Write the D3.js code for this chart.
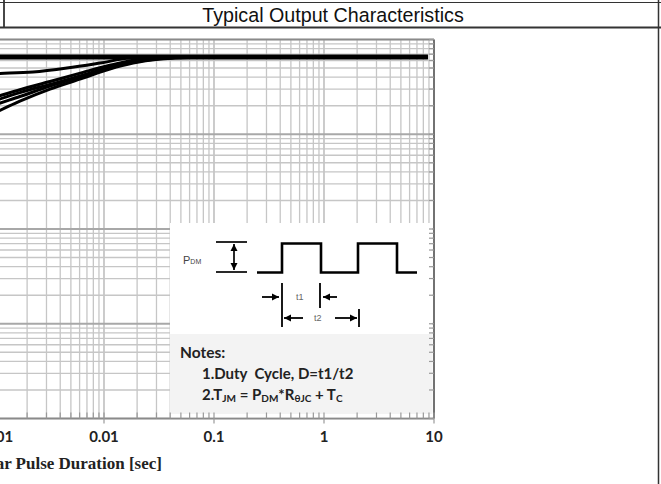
<!DOCTYPE html>
<html>
<head>
<meta charset="utf-8">
<script src="https://cdn.jsdelivr.net/npm/d3@7"></script>
<style>
body { margin: 0; background: #fff; }
svg { display: block; }
</style>
</head>
<body>
<script>
// values: pulse duration [sec] vs. normalized thermal response
var xTickVals = [0.001, 0.01, 0.1, 1, 10];
var xTickText = ["0.001", "0.01", "0.1", "1", "10"];

var tFlat = [0.0005, 8.8];
var zFlat = [0.655, 0.655];

var tUpper = [0.0008, 0.001, 0.00226, 0.00461, 0.0092, 0.0172, 0.0323, 0.0746, 8.8];
var zUpper = [0.43, 0.436, 0.453, 0.499, 0.564, 0.636, 0.650, 0.653, 0.653];

var tBundle = [0.0008, 0.001, 0.00172, 0.00323, 0.00644, 0.0113, 0.0184, 0.0323, 0.0605, 8.8];
var zD1 = [0.228, 0.245, 0.295, 0.360, 0.450, 0.534, 0.603, 0.642, 0.651, 0.651];
var zD2 = [0.208, 0.225, 0.275, 0.336, 0.420, 0.510, 0.590, 0.634, 0.650, 0.650];
var zD3 = [0.185, 0.203, 0.250, 0.322, 0.411, 0.499, 0.577, 0.628, 0.648, 0.648];
var zD4 = [0.152, 0.168, 0.224, 0.300, 0.391, 0.487, 0.563, 0.621, 0.647, 0.647];

var width = 661, height = 484;

var svg = d3.select("body").append("svg")
    .attr("width", width)
    .attr("height", height);

// plot box (left part is cut off by the picture)
var top_ = 39.5, bottom = 418.5, right = 434;
var x = d3.scaleLog().domain([1e-4, 10]).range([-116, right]);
var y = d3.scaleLog().domain([1e-4, 1]).range([bottom, top_]);

function isMajor(d) {
    var l = Math.log10(d);
    return Math.abs(l - Math.round(l)) < 1e-6;
}

// grid
var grid = svg.append("g");
grid.selectAll(".vx").data(x.ticks()).enter().append("line")
    .attr("x1", function(d){ return x(d); })
    .attr("x2", function(d){ return x(d); })
    .attr("y1", top_).attr("y2", bottom)
    .attr("stroke", function(d){ return isMajor(d) ? "#b0b0b0" : "#c6c6c6"; })
    .attr("stroke-width", 1.3);
grid.selectAll(".hy").data(y.ticks()).enter().append("line")
    .attr("x1", x(1e-4)).attr("x2", right)
    .attr("y1", function(d){ return y(d); })
    .attr("y2", function(d){ return y(d); })
    .attr("stroke", function(d){ return isMajor(d) ? "#a8a8a8" : "#c6c6c6"; })
    .attr("stroke-width", function(d){ return isMajor(d) ? 1.8 : 1.3; });

// curves
var line = d3.line()
    .x(function(d){ return x(d[0]); })
    .y(function(d){ return y(d[1]); })
    .curve(d3.curveMonotoneX);

var series = [
    {t: tFlat, z: zFlat, w: 5},
    {t: tUpper, z: zUpper, w: 3},
    {t: tBundle, z: zD1, w: 3},
    {t: tBundle, z: zD2, w: 3},
    {t: tBundle, z: zD3, w: 3},
    {t: tBundle, z: zD4, w: 3}
];
svg.append("g").selectAll("path").data(series).enter().append("path")
    .attr("d", function(s){ return line(d3.zip(s.t, s.z)); })
    .attr("fill", "none")
    .attr("stroke", "#000")
    .attr("stroke-width", function(s){ return s.w; });

// inset with the pulse sketch and notes
var ix = 170, iy = 223, iw = right - 1.5 - 170, ih = bottom - 1 - 223;
var inset = svg.append("g");
inset.append("rect").attr("x", ix).attr("y", iy).attr("width", iw).attr("height", ih).attr("fill", "#fff");
inset.append("rect").attr("x", ix).attr("y", 334).attr("width", iw).attr("height", 80).attr("fill", "#f3f3f3");

var defs = svg.append("defs");
defs.append("marker").attr("id", "arr")
    .attr("viewBox", "0 0 10 10").attr("refX", 10).attr("refY", 5)
    .attr("markerWidth", 4).attr("markerHeight", 4).attr("orient", "auto-start-reverse")
    .append("path").attr("d", "M0,0L10,5L0,10z").attr("fill", "#000");

// P_DM label and I-beam
var pdm = inset.append("text").attr("x", 183).attr("y", 264)
    .attr("font-family", "Liberation Sans, Arial, sans-serif").attr("font-size", 11).attr("fill", "#444");
pdm.append("tspan").text("P");
pdm.append("tspan").attr("font-size", 7).text("DM");
inset.append("line").attr("x1", 216).attr("x2", 247).attr("y1", 242).attr("y2", 242).attr("stroke", "#111").attr("stroke-width", 1.8);
inset.append("line").attr("x1", 216).attr("x2", 247).attr("y1", 272).attr("y2", 272).attr("stroke", "#111").attr("stroke-width", 1.8);
inset.append("line").attr("x1", 234).attr("x2", 234).attr("y1", 244).attr("y2", 270).attr("stroke", "#111").attr("stroke-width", 1.8)
    .attr("marker-start", "url(#arr)").attr("marker-end", "url(#arr)");

// pulse train
inset.append("path")
    .attr("d", "M257,272.5H282V243.5H321V272.5H358V243.5H397V272.5H417")
    .attr("fill", "none").attr("stroke", "#000").attr("stroke-width", 2.6);

// t1 / t2 dimension marks
function seg(x1, y1, x2, y2, arrow) {
    var l = inset.append("line").attr("x1", x1).attr("y1", y1).attr("x2", x2).attr("y2", y2)
        .attr("stroke", "#000").attr("stroke-width", 1.8);
    if (arrow) l.attr("marker-end", "url(#arr)");
}
seg(282, 283, 282, 327, false);
seg(320, 283, 320, 308, false);
seg(359, 309, 359, 327, false);
seg(262, 297, 279, 297, true);
seg(337, 297, 323, 297, true);
seg(303, 318, 284, 318, true);
seg(335, 318, 357, 318, true);
inset.append("text").attr("x", 296).attr("y", 300).attr("font-family", "Liberation Sans, Arial, sans-serif")
    .attr("font-size", 9).attr("fill", "#666").text("t1");
inset.append("text").attr("x", 314).attr("y", 321).attr("font-family", "Liberation Sans, Arial, sans-serif")
    .attr("font-size", 9).attr("fill", "#666").text("t2");

// notes
var noteFont = "Lato, Open Sans, sans-serif";
inset.append("text").attr("x", 180).attr("y", 358).attr("font-family", noteFont)
    .attr("font-weight", "bold").attr("font-size", 15.5).attr("fill", "#222").text("Notes:");
inset.append("text").attr("x", 202).attr("y", 379).attr("font-family", noteFont)
    .attr("font-weight", "bold").attr("font-size", 15).attr("fill", "#222")
    .attr("xml:space", "preserve").text("1.Duty  Cycle, D=t1/t2");
var n2 = inset.append("text").attr("x", 202).attr("y", 400).attr("font-family", noteFont)
    .attr("font-weight", "bold").attr("font-size", 15).attr("fill", "#222");
n2.append("tspan").text("2.T");
n2.append("tspan").attr("font-size", 10).attr("dy", 2).text("JM");
n2.append("tspan").attr("dy", -2).text(" = P");
n2.append("tspan").attr("font-size", 10).attr("dy", 2).text("DM");
n2.append("tspan").attr("dy", -2).text("*R");
n2.append("tspan").attr("font-size", 10).attr("dy", 2).text("θJC");
n2.append("tspan").attr("dy", -2).text(" + T");
n2.append("tspan").attr("font-size", 10).attr("dy", 2).text("C");

// axes
var axes = svg.append("g");
axes.append("line").attr("x1", x(1e-4)).attr("x2", right).attr("y1", top_).attr("y2", top_)
    .attr("stroke", "#8a8a8a").attr("stroke-width", 1.5);
axes.append("line").attr("x1", x(1e-4)).attr("x2", right).attr("y1", bottom).attr("y2", bottom)
    .attr("stroke", "#8a8a8a").attr("stroke-width", 1.5);
axes.append("line").attr("x1", right).attr("x2", right).attr("y1", top_).attr("y2", bottom)
    .attr("stroke", "#555").attr("stroke-width", 1.5);
axes.selectAll(".bt").data(x.ticks()).enter().append("line")
    .attr("x1", function(d){ return x(d); }).attr("x2", function(d){ return x(d); })
    .attr("y1", bottom - 6).attr("y2", function(d){ return isMajor(d) ? bottom + 5 : bottom; })
    .attr("stroke", "#999").attr("stroke-width", 1.2);
axes.selectAll(".rt").data(y.ticks()).enter().append("line")
    .attr("x1", right - 5).attr("x2", right)
    .attr("y1", function(d){ return y(d); }).attr("y2", function(d){ return y(d); })
    .attr("stroke", "#999").attr("stroke-width", 1.2);

axes.selectAll(".xl").data(xTickVals).enter().append("text")
    .attr("x", function(d){ return x(d); })
    .attr("y", 442)
    .attr("text-anchor", "middle")
    .attr("font-family", noteFont).attr("font-weight", "bold").attr("font-size", 15).attr("fill", "#222")
    .text(function(d, i){ return xTickText[i]; });

svg.append("text").attr("x", 162).attr("y", 469).attr("text-anchor", "end")
    .attr("font-family", "Liberation Serif, Times New Roman, serif").attr("font-weight", "bold")
    .attr("font-size", 17).attr("fill", "#222").text("Rectangular Pulse Duration [sec]");

// table frame and title
var frame = svg.append("g").attr("stroke", "#333");
frame.append("line").attr("x1", 0).attr("x2", 661).attr("y1", 2.5).attr("y2", 2.5).attr("stroke-width", 1.2);
frame.append("line").attr("x1", 0).attr("x2", 661).attr("y1", 27.5).attr("y2", 27.5).attr("stroke-width", 1.8);
frame.append("line").attr("x1", 4).attr("x2", 4).attr("y1", 0).attr("y2", 27.5).attr("stroke-width", 1.8);
frame.append("line").attr("x1", 658.5).attr("x2", 658.5).attr("y1", 0).attr("y2", 484).attr("stroke-width", 1.5);

svg.append("text").attr("x", 333).attr("y", 22).attr("text-anchor", "middle")
    .attr("font-family", "Liberation Sans, Arial, sans-serif").attr("font-size", 19.7).attr("fill", "#111")
    .text("Typical Output Characteristics");
</script>
</body>
</html>
